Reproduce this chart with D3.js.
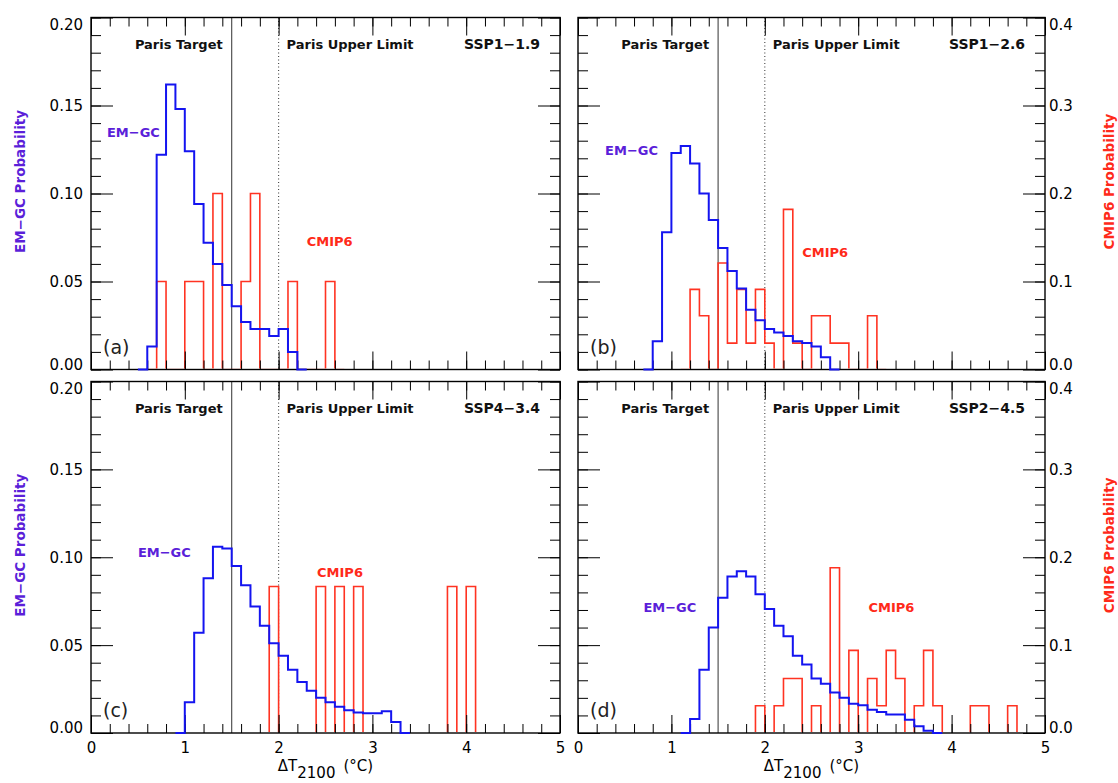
<!DOCTYPE html>
<html><head><meta charset="utf-8">
<script src="https://cdn.jsdelivr.net/npm/d3@7"></script>
<style>
body{margin:0;background:#fff}
svg{display:block}
text{font-family:"DejaVu Sans",sans-serif}
</style>
</head><body><svg id="chart" width="1118" height="783"></svg>
<script>
// ---------- data ----------
const binWidth = 0.1;
const scenarios = ["SSP1\u22121.9", "SSP1\u22122.6", "SSP4\u22123.4", "SSP2\u22124.5"];
const panelTags = ["(a)", "(b)", "(c)", "(d)"];
const xTickValues = [0, 1, 2, 3, 4, 5];
const emgcTickValues = [0, 0.05, 0.10, 0.15, 0.20];
const cmipTickValues = [0, 0.1, 0.2, 0.3, 0.4];
const parisTarget = 1.5;
const parisUpperLimit = 2.0;

// EM-GC probability per 0.1 °C bin, first bin starts at emgcStart
const emgcStart = [0.5, 0.7, 0.9, 1.1];
const emgcA = [0, 0.013, 0.122, 0.162, 0.148, 0.124, 0.094, 0.072, 0.060, 0.048, 0.036, 0.027, 0.023, 0.023, 0.019, 0.023, 0.010, 0];
const emgcB = [0, 0.016, 0.078, 0.123, 0.127, 0.117, 0.100, 0.085, 0.069, 0.056, 0.046, 0.034, 0.028, 0.023, 0.021, 0.019, 0.016, 0.015, 0.013, 0.007, 0];
const emgcC = [0, 0.0175, 0.057, 0.088, 0.106, 0.105, 0.095, 0.084, 0.072, 0.061, 0.051, 0.044, 0.036, 0.029, 0.024, 0.020, 0.0175, 0.015, 0.013, 0.0116, 0.0112, 0.0112, 0.0124, 0.0063, 0];
const emgcD = [0, 0.008, 0.036, 0.060, 0.077, 0.089, 0.092, 0.089, 0.079, 0.0705, 0.061, 0.055, 0.044, 0.039, 0.031, 0.028, 0.023, 0.020, 0.0167, 0.0158, 0.0133, 0.012, 0.0105, 0.0105, 0.0076, 0.0038, 0.0013, 0];

// CMIP6 probability per 0.1 °C bin, first bin starts at cmipStart
const cmipStart = [0.6, 1.1, 1.8, 1.8];
const cmipA = [0, 0.1, 0, 0, 0.1, 0.1, 0, 0.2, 0, 0, 0.1, 0.2, 0, 0, 0, 0.1, 0, 0, 0, 0.1, 0];
const cmipB = [0, 0.091, 0.061, 0, 0.121, 0.030, 0.091, 0.030, 0.091, 0.030, 0, 0.182, 0.030, 0, 0.061, 0.061, 0.030, 0.030, 0, 0, 0.061, 0];
const cmipC = [0, 0.1667, 0, 0, 0, 0, 0.1667, 0, 0.1667, 0, 0.1667, 0, 0, 0, 0, 0, 0, 0, 0, 0, 0.1667, 0, 0.1667, 0];
const cmipD = [0, 0.031, 0, 0.031, 0.062, 0.062, 0, 0.031, 0, 0.188, 0, 0.094, 0, 0.062, 0.031, 0.094, 0.062, 0, 0.031, 0.094, 0.031, 0, 0, 0, 0.031, 0.031, 0, 0, 0.031, 0];

const emgcSeries = [emgcA, emgcB, emgcC, emgcD];
const cmipSeries = [cmipA, cmipB, cmipC, cmipD];

// ---------- layout ----------
const layout = [
  {x0: 91,  x1: 560,  y0: 17.5,  y1: 369.5, leftLab: true,  rightLab: false, bottomLab: false},
  {x0: 578, x1: 1045, y0: 17.5,  y1: 369.5, leftLab: false, rightLab: true,  bottomLab: false},
  {x0: 91,  x1: 560,  y0: 381.5, y1: 733,   leftLab: true,  rightLab: false, bottomLab: true},
  {x0: 578, x1: 1045, y0: 381.5, y1: 733,   leftLab: false, rightLab: true,  bottomLab: true}
];
const emgcLabelPos = [[0.17, 0.132], [0.29, 0.122], [0.50, 0.100], [0.70, 0.069]];
const cmipLabelPos = [[2.30, 0.070], [2.40, 0.064], [2.41, 0.089], [3.11, 0.069]];

const BLUE = "#1414f0", RED = "#ff3322", PURPLE = "#5b1fd9", LABELRED = "#ff2a1a";

const svg = d3.select("#chart");
svg.append("rect").attr("width", 1118).attr("height", 783).attr("fill", "#fff");
const defs = svg.append("defs");

function stepPoints(start, vals) {
  const pts = [[start, 0]];
  vals.forEach((v, i) => {
    const a = start + i * binWidth;
    pts.push([a, v], [a + binWidth, v]);
  });
  pts.push([start + vals.length * binWidth, 0]);
  return pts;
}

function styleAxis(g) {
  g.select(".domain").remove();
  g.selectAll(".tick line").attr("stroke", "#000").attr("stroke-width", 1);
  g.selectAll(".tick text").attr("fill", "#000").style("font-size", "15px")
    .style("font-family", "'DejaVu Sans', sans-serif");
}

layout.forEach((L, p) => {
  const x = d3.scaleLinear().domain([0, 5]).range([L.x0, L.x1]);
  const yL = d3.scaleLinear().domain([0, 0.2]).range([L.y1, L.y0]);
  const yR = d3.scaleLinear().domain([0, 0.4]).range([L.y1, L.y0]);
  const g = svg.append("g");

  defs.append("clipPath").attr("id", "clipRed" + p).append("rect")
    .attr("x", L.x0).attr("y", L.y0).attr("width", L.x1 - L.x0).attr("height", L.y1 - L.y0 - 0.9);

  // Paris lines
  g.append("line").attr("x1", x(parisTarget)).attr("x2", x(parisTarget)).attr("y1", L.y0).attr("y2", L.y1)
    .attr("stroke", "#444").attr("stroke-width", 1.1);
  g.append("line").attr("x1", x(parisUpperLimit)).attr("x2", x(parisUpperLimit)).attr("y1", L.y0).attr("y2", L.y1)
    .attr("stroke", "#444").attr("stroke-width", 1.1).attr("stroke-dasharray", "1,2.5");

  // CMIP6 histogram (zero bins hidden behind the baseline)
  g.append("path").datum(stepPoints(cmipStart[p], cmipSeries[p]))
    .attr("clip-path", `url(#clipRed${p})`)
    .attr("d", d3.line().x(d => x(d[0])).y(d => yR(d[1])))
    .attr("fill", "none").attr("stroke", RED).attr("stroke-width", 1.6);

  // minor ticks
  const minorY = d3.range(0, 0.2001, 0.01);
  const minorX = d3.range(0, 5.001, 0.2);
  g.append("g").attr("transform", `translate(${L.x0},0)`)
    .call(d3.axisLeft(yL).tickValues(minorY).tickSize(-10).tickFormat("")).call(styleAxis);
  g.append("g").attr("transform", `translate(${L.x1},0)`)
    .call(d3.axisRight(yL).tickValues(minorY).tickSize(-10).tickFormat("")).call(styleAxis);
  g.append("g").attr("transform", `translate(0,${L.y1})`)
    .call(d3.axisBottom(x).tickValues(minorX).tickSize(-9).tickFormat("")).call(styleAxis);
  g.append("g").attr("transform", `translate(0,${L.y0})`)
    .call(d3.axisTop(x).tickValues(minorX).tickSize(-9).tickFormat("")).call(styleAxis);

  // major ticks
  const left = g.append("g").attr("transform", `translate(${L.x0},0)`)
    .call(d3.axisLeft(yL).tickValues(emgcTickValues).tickSize(-22).tickPadding(8)
      .tickFormat(L.leftLab ? d3.format(".2f") : "")).call(styleAxis);
  const right = g.append("g").attr("transform", `translate(${L.x1},0)`)
    .call(d3.axisRight(yR).tickValues(cmipTickValues).tickSize(-22).tickPadding(4)
      .tickFormat(L.rightLab ? d3.format(".1f") : "")).call(styleAxis);
  [left, right].forEach(ax => {
    ax.selectAll(".tick text").attr("dy", (d, i, n) => i === 0 ? "-0.02em" : (i === n.length - 1 ? "0.8em" : "0.35em"));
  });
  g.append("g").attr("transform", `translate(0,${L.y1})`)
    .call(d3.axisBottom(x).tickValues(xTickValues).tickSize(-18).tickPadding(9)
      .tickFormat(L.bottomLab ? d3.format("d") : "")).call(styleAxis);
  g.append("g").attr("transform", `translate(0,${L.y0})`)
    .call(d3.axisTop(x).tickValues(xTickValues).tickSize(-18).tickFormat("")).call(styleAxis);

  // frame
  g.append("rect").attr("x", L.x0).attr("y", L.y0).attr("width", L.x1 - L.x0).attr("height", L.y1 - L.y0)
    .attr("fill", "none").attr("stroke", "#000").attr("stroke-width", 1.4);

  // EM-GC histogram
  g.append("path").datum(stepPoints(emgcStart[p], emgcSeries[p]))
    .attr("d", d3.line().x(d => x(d[0])).y(d => yL(d[1])))
    .attr("fill", "none").attr("stroke", BLUE).attr("stroke-width", 2);

  // header texts
  const hy = L.y0 + 31;
  g.append("text").attr("x", x(parisTarget) - 9).attr("y", hy).attr("text-anchor", "end")
    .style("font-size", "13px").style("font-weight", "bold").attr("fill", "#111").text("Paris Target");
  g.append("text").attr("x", x(parisUpperLimit) + 8).attr("y", hy)
    .style("font-size", "13px").style("font-weight", "bold").attr("fill", "#111").text("Paris Upper Limit");
  g.append("text").attr("x", L.x1 - 20).attr("y", hy).attr("text-anchor", "end")
    .style("font-size", "14px").style("font-weight", "bold").attr("fill", "#111").text(scenarios[p]);

  // series labels
  g.append("text").attr("x", x(emgcLabelPos[p][0])).attr("y", yL(emgcLabelPos[p][1]))
    .style("font-size", "13px").style("font-weight", "bold").attr("fill", PURPLE).text("EM\u2212GC");
  g.append("text").attr("x", x(cmipLabelPos[p][0])).attr("y", yL(cmipLabelPos[p][1]))
    .style("font-size", "13px").style("font-weight", "bold").attr("fill", LABELRED).text("CMIP6");

  // panel tag
  g.append("text").attr("x", L.x0 + 12).attr("y", L.y1 - 16)
    .style("font-size", "19px").attr("fill", "#222").text(panelTags[p]);

  // x title
  if (L.bottomLab) {
    const t = g.append("text").attr("x", (L.x0 + L.x1) / 2).attr("y", 771).attr("text-anchor", "middle")
      .style("font-size", "15px").attr("fill", "#000");
    t.append("tspan").text("\u0394T");
    t.append("tspan").attr("dy", 7).text("2100");
    t.append("tspan").attr("dy", -7).attr("dx", 8).text("(\u00B0C)");
  }
  // y titles
  if (L.leftLab) {
    const cy = (L.y0 + L.y1) / 2 - 12;
    g.append("text").attr("transform", `translate(20,${cy}) rotate(-90)`).attr("text-anchor", "middle")
      .attr("dominant-baseline", "central").style("font-size", "13.5px").style("font-weight", "bold")
      .attr("fill", PURPLE).text("EM\u2212GC Probability");
  }
  if (L.rightLab) {
    const cy = (L.y0 + L.y1) / 2 - 12;
    g.append("text").attr("transform", `translate(1109,${cy}) rotate(-90)`).attr("text-anchor", "middle")
      .attr("dominant-baseline", "central").style("font-size", "13.5px").style("font-weight", "bold")
      .attr("fill", LABELRED).text("CMIP6 Probability");
  }
});
</script>
</body></html>
